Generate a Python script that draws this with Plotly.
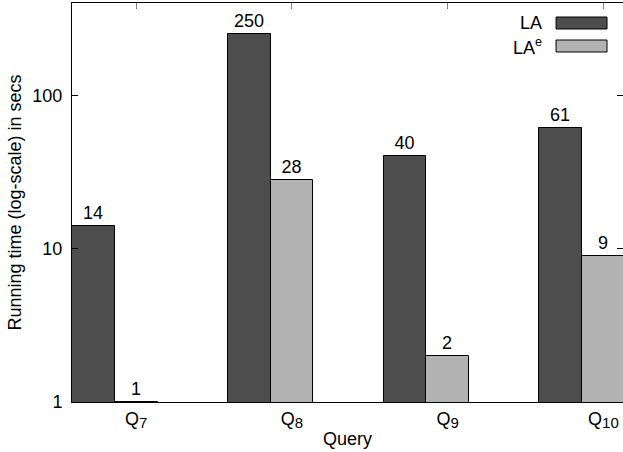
import math
import plotly.graph_objects as go

# ---- data ----
query_names = ["7", "8", "9", "10"]
la_values = [14, 250, 40, 61]
lae_values = [1, 28, 2, 9]
series_names = ["LA", "LA<sup>e</sup>"]
y_ticks = [1, 10, 100]

queries = ['Q<sub><span style="font-size:15px">%s</span></sub>' % q for q in query_names]

# ---- style ----
W, H = 623, 452
L_PX, R_PX, T_PX, B_PX = 71.5, 623, 3, 402
DARK = "#4d4d4d"
LIGHT = "#b3b3b3"
FONT = "Liberation Sans, Arial, Helvetica, sans-serif"
FS = 18
bw = 0.2745
x_lo = -1.5 * bw
x_hi = x_lo + (R_PX - L_PX) / 155.9
y_max = 400

fig = go.Figure()
fig.add_trace(go.Bar(
    x=queries, y=la_values, name=series_names[0],
    width=bw, offset=-1.5 * bw,
    marker=dict(color=DARK, line=dict(color="black", width=1)),
    text=[str(v) for v in la_values], textposition="outside",
    textfont=dict(size=FS, color="black", family=FONT),
    constraintext="none", cliponaxis=False, showlegend=False,
))
fig.add_trace(go.Bar(
    x=queries, y=lae_values, name=series_names[1],
    width=bw, offset=-0.5 * bw,
    marker=dict(color=LIGHT, line=dict(color="black", width=1)),
    text=[str(v) for v in lae_values], textposition="outside",
    textfont=dict(size=FS, color="black", family=FONT),
    constraintext="none", cliponaxis=False, showlegend=False,
))
# helper trace to register mirrored tick axes
fig.add_trace(go.Scatter(x=[None], y=[None], xaxis="x2", yaxis="y2",
                         showlegend=False, hoverinfo="skip"))

fig.update_layout(
    width=W, height=H,
    margin=dict(l=L_PX, r=W - R_PX, t=T_PX, b=H - B_PX, pad=0),
    paper_bgcolor="white", plot_bgcolor="white",
    font=dict(family=FONT, size=FS, color="black"),
    bargap=0, barmode="overlay",
    xaxis=dict(
        type="category", range=[x_lo, x_hi],
        showline=True, linecolor="black", linewidth=1, mirror=True,
        ticks="", showgrid=False, zeroline=False,
        tickfont=dict(size=FS),
        title=dict(text="Query", font=dict(size=FS), standoff=2),
    ),
    yaxis=dict(
        type="log", range=[0, math.log10(y_max)],
        tickvals=y_ticks, ticktext=[str(v) for v in y_ticks],
        showline=True, linecolor="black", linewidth=1, mirror=False,
        ticks="inside", ticklen=6, tickcolor="black",
        showgrid=False, zeroline=False, ticklabelstandoff=5,
        title=dict(text="Running time (log-scale) in secs", font=dict(size=FS), standoff=6),
    ),
    xaxis2=dict(
        overlaying="x", side="top", range=[x_lo, x_hi],
        tickvals=[0, 1, 2, 3], showticklabels=False,
        ticks="inside", ticklen=6, tickcolor="#808080",
        showgrid=False, zeroline=False, showline=False,
    ),
    yaxis2=dict(
        overlaying="y", side="right", type="log", range=[0, math.log10(y_max)],
        tickvals=y_ticks, showticklabels=False,
        ticks="inside", ticklen=6, tickcolor="black",
        showgrid=False, zeroline=False, showline=False,
    ),
)

# manual legend (sample to the right of the label, gnuplot style)
def px_x(px):
    return (px - L_PX) / (R_PX - L_PX)

def px_y(py):
    return (B_PX - py) / (B_PX - T_PX)

legend_rows = [(series_names[0], DARK, 23), (series_names[1], LIGHT, 46)]
for label, color, cy in legend_rows:
    fig.add_annotation(x=px_x(544), y=px_y(cy), xref="paper", yref="paper",
                       text=label, showarrow=False, xanchor="right", yanchor="middle",
                       font=dict(size=FS, family=FONT, color="black"))
    fig.add_shape(type="rect", xref="paper", yref="paper",
                  x0=px_x(556), x1=px_x(607), y0=px_y(cy + 6), y1=px_y(cy - 6),
                  fillcolor=color, line=dict(color="black", width=1))

fig.write_html("out.html", config={"displayModeBar": False},
               post_script="document.body.style.margin='0';document.body.style.overflow='hidden';")
